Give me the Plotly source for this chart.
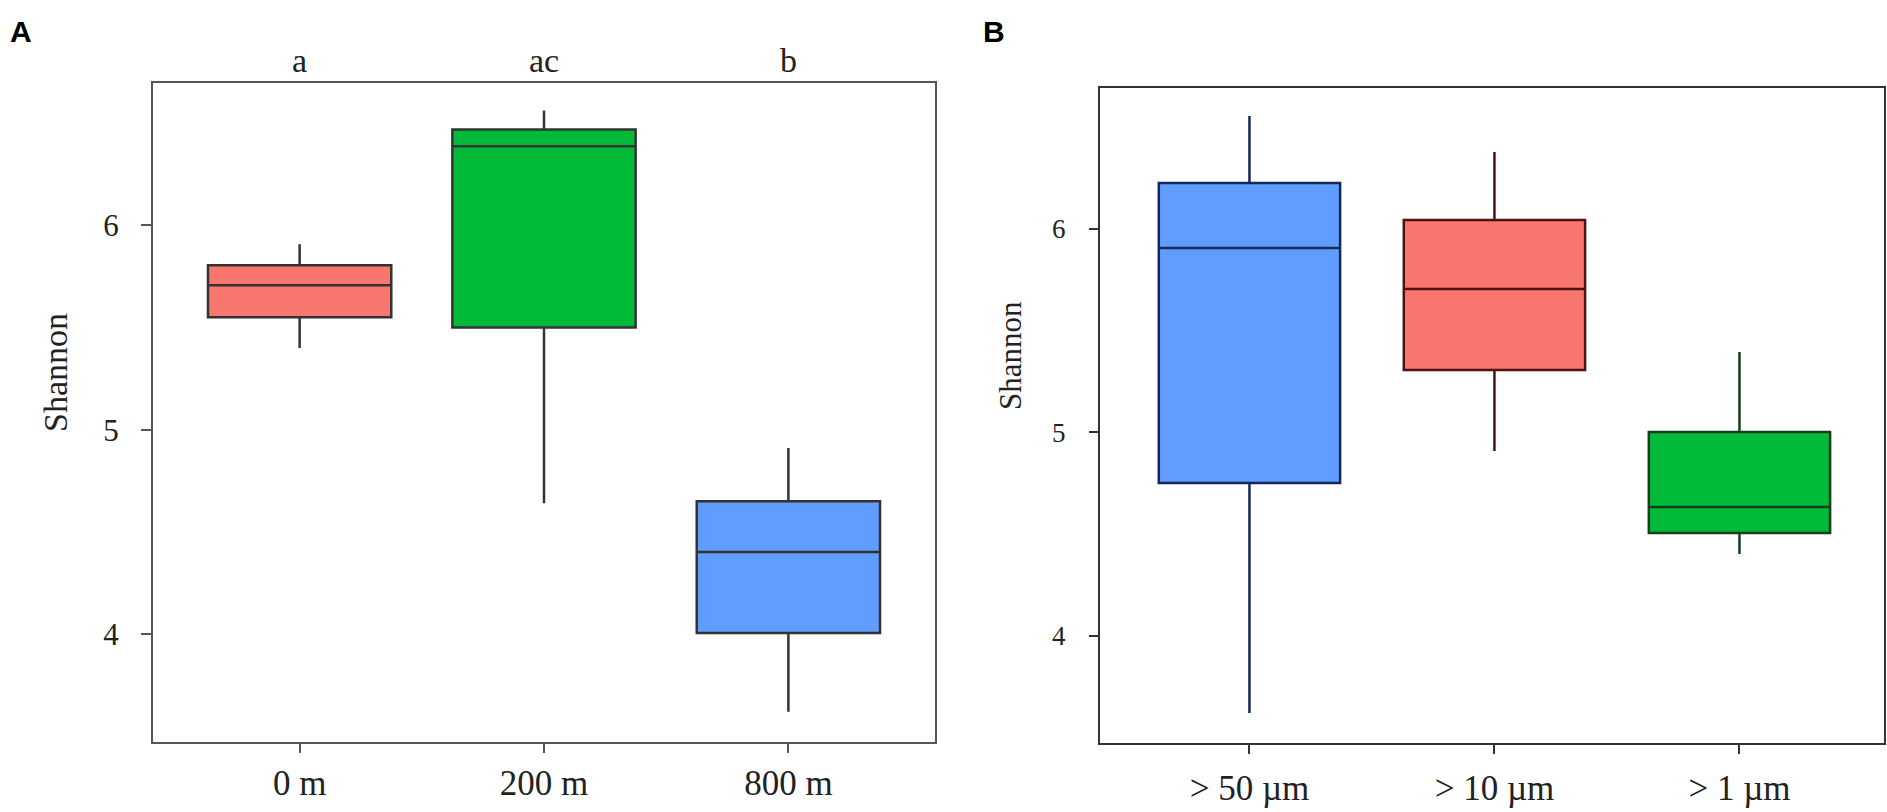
import plotly.graph_objects as go

# panel A: depth
depth = ["0 m", "200 m", "800 m"]
depth_low = [5.40, 4.64, 3.62]
depth_q1 = [5.55, 5.50, 4.005]
depth_med = [5.707, 6.386, 4.401]
depth_q3 = [5.804, 6.469, 4.650]
depth_high = [5.907, 6.562, 4.910]
depth_letters = ["a", "ac", "b"]
depth_fill = ["#F8766D", "#00BA38", "#619CFF"]

# panel B: size fraction
size = ["> 50 µm", "> 10 µm", "> 1 µm"]
size_low = [3.622, 4.909, 4.403]
size_q1 = [4.752, 5.307, 4.506]
size_med = [5.907, 5.705, 4.634]
size_q3 = [6.226, 6.044, 5.002]
size_high = [6.555, 6.378, 5.396]
size_fill = ["#619CFF", "#F8766D", "#00BA38"]
size_edge = ["#14295A", "#4E1212", "#163E1E"]

W, H = 1887, 812
serif = "Liberation Serif"

fig = go.Figure()

for i, name in enumerate(depth):
    fig.add_trace(go.Box(
        x=[name], q1=[depth_q1[i]], median=[depth_med[i]], q3=[depth_q3[i]],
        lowerfence=[depth_low[i]], upperfence=[depth_high[i]],
        fillcolor=depth_fill[i], line=dict(color="#333333", width=2.5),
        width=0.75, whiskerwidth=0, boxpoints=False, showlegend=False,
        xaxis="x", yaxis="y"))

for i, name in enumerate(size):
    fig.add_trace(go.Box(
        x=[name], q1=[size_q1[i]], median=[size_med[i]], q3=[size_q3[i]],
        lowerfence=[size_low[i]], upperfence=[size_high[i]],
        fillcolor=size_fill[i], line=dict(color=size_edge[i], width=2.5),
        width=0.74, whiskerwidth=0, boxpoints=False, showlegend=False,
        xaxis="x2", yaxis="y2"))

frame = dict(showline=True, mirror=True, linewidth=2, showgrid=False,
             zeroline=False, ticks="outside", tickwidth=2)

fig.update_layout(
    width=W, height=H,
    margin=dict(l=0, r=0, t=0, b=0),
    paper_bgcolor="white", plot_bgcolor="white",
    font=dict(family=serif, color="#222222"),
    xaxis=dict(frame, domain=[153 / W, 935 / W], type="category",
               categoryorder="array", categoryarray=depth, range=[-0.6, 2.6],
               linecolor="#555555", tickcolor="#555555", ticklen=9,
               tickfont=dict(size=35, family=serif), ticklabelstandoff=0,
               anchor="y"),
    yaxis=dict(frame, domain=[1 - 742 / H, 1 - 83 / H], range=[3.472, 6.696],
               tickvals=[4, 5, 6], linecolor="#555555", tickcolor="#555555",
               ticklen=10, tickfont=dict(size=31, family=serif),
               ticklabelstandoff=16, anchor="x"),
    xaxis2=dict(frame, domain=[1100 / W, 1884 / W], type="category",
                categoryorder="array", categoryarray=size, range=[-0.61, 2.59],
                linecolor="#333333", tickcolor="#333333", ticklen=9,
                tickfont=dict(size=35, family=serif), ticklabelstandoff=4,
                anchor="y2"),
    yaxis2=dict(frame, domain=[1 - 743 / H, 1 - 88 / H], range=[3.474, 6.693],
                tickvals=[4, 5, 6], linecolor="#333333", tickcolor="#333333",
                ticklen=9, tickfont=dict(size=27, family=serif),
                ticklabelstandoff=18, anchor="x2"),
)

ann = []
for i, t in enumerate(depth_letters):
    ann.append(dict(x=depth[i], y=1 - 60 / H, xref="x", yref="paper", text=t,
                    showarrow=False, font=dict(size=34, family=serif)))
ann.append(dict(x=55 / W, y=1 - 373 / H, xref="paper", yref="paper",
                text="Shannon", textangle=-90, showarrow=False,
                font=dict(size=34, family=serif)))
ann.append(dict(x=1010 / W, y=1 - 356 / H, xref="paper", yref="paper",
                text="Shannon", textangle=-90, showarrow=False,
                font=dict(size=31, family=serif)))
ann.append(dict(x=21 / W, y=1 - 31 / H, xref="paper", yref="paper",
                text="<b>A</b>", showarrow=False,
                font=dict(size=30, family="Liberation Sans", color="black")))
ann.append(dict(x=994 / W, y=1 - 31 / H, xref="paper", yref="paper",
                text="<b>B</b>", showarrow=False,
                font=dict(size=30, family="Liberation Sans", color="black")))
for a in ann:
    a["xanchor"] = "center"
    a["yanchor"] = "middle"
fig.update_layout(annotations=ann)

# page body has a default 8px margin, drop it so the figure fills the window
fig.write_html("out.html", config={"displayModeBar": False},
               post_script="document.body.style.margin='0';")
